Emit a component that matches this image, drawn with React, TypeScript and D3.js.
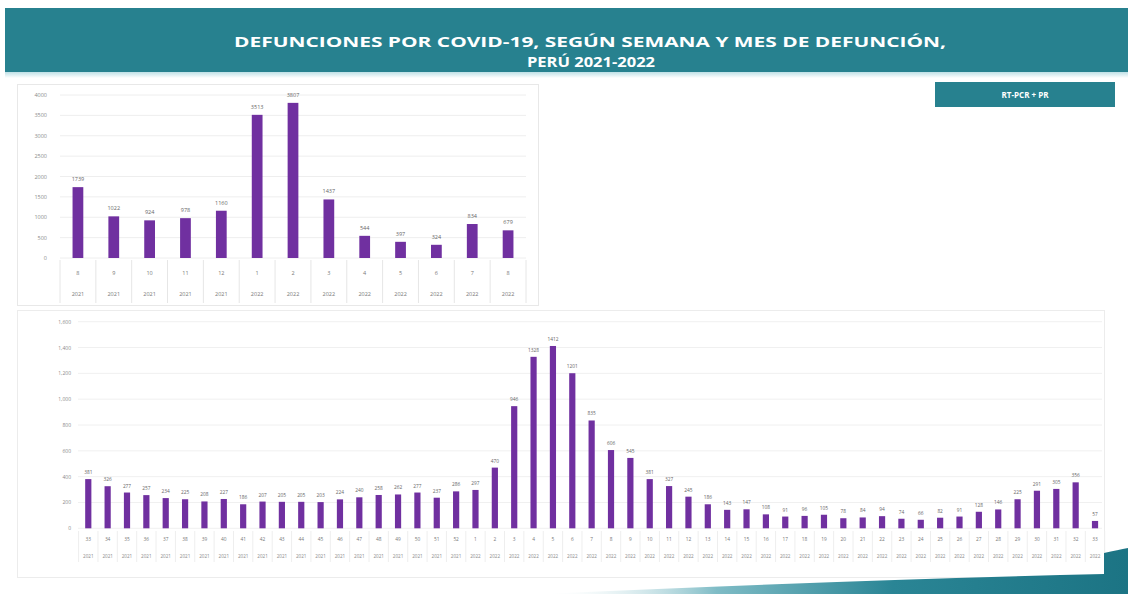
import * as d3 from "d3";

// monthly deaths (top chart)
const months = ["8", "9", "10", "11", "12", "1", "2", "3", "4", "5", "6", "7", "8"];
const monthYears = ["2021", "2021", "2021", "2021", "2021", "2022", "2022", "2022", "2022", "2022", "2022", "2022", "2022"];
const monthDeaths = [1739, 1022, 924, 978, 1160, 3513, 3807, 1437, 544, 397, 324, 834, 679];
const monthTicks = [0, 500, 1000, 1500, 2000, 2500, 3000, 3500, 4000];

// weekly deaths (bottom chart): weeks 33-52 of 2021, 1-33 of 2022
const weeks = [
  "33", "34", "35", "36", "37", "38", "39", "40", "41", "42", "43", "44", "45", "46", "47", "48", "49", "50", "51", "52",
  "1", "2", "3", "4", "5", "6", "7", "8", "9", "10", "11", "12", "13", "14", "15", "16", "17", "18", "19", "20",
  "21", "22", "23", "24", "25", "26", "27", "28", "29", "30", "31", "32", "33",
];
const weekYears = weeks.map((_, i) => (i < 20 ? "2021" : "2022"));
const weekDeaths = [
  381, 326, 277, 257, 234, 225, 208, 227, 186, 207, 205, 205, 203, 224, 240, 258, 262, 277, 237, 286,
  297, 470, 946, 1328, 1412, 1201, 835, 606, 545, 381, 327, 245, 186, 143, 147, 108, 91, 96, 105, 78,
  84, 94, 74, 66, 82, 91, 128, 146, 225, 291, 305, 356, 57,
];
const weekTicks = [0, 200, 400, 600, 800, 1000, 1200, 1400, 1600];

const PURPLE = "#7030a0";
const TEAL = "#27818f";
const FONT = "'Open Sans', 'Liberation Sans', sans-serif";

const App = () => {
  // top chart scales
  const xTop = d3.scaleBand<number>()
    .domain(d3.range(months.length))
    .range([60, 526])
    .paddingInner(0.7)
    .paddingOuter(0.35);
  const yTop = d3.scaleLinear().domain([0, 4000]).range([258, 95]);
  const stepTop = xTop.step();

  // bottom chart scales
  const xBot = d3.scaleBand<number>()
    .domain(d3.range(weeks.length))
    .range([78.6, 1104.7])
    .paddingInner(0.68)
    .paddingOuter(0.34);
  const yBot = d3.scaleLinear().domain([0, 1600]).range([528.3, 321.7]);
  const stepBot = xBot.step();

  const fmt = d3.format(",");

  return (
    <svg width={1128} height={594} style={{ position: "absolute", left: 0, top: 0 }} fontFamily={FONT}>
      <defs>
        <linearGradient id="swoosh" x1="0" x2="1" y1="0" y2="0">
          <stop offset="0" stopColor="#ffffff" stopOpacity={0} />
          <stop offset="0.3" stopColor="#7fbcc6" />
          <stop offset="0.6" stopColor="#2a8595" />
          <stop offset="1" stopColor="#1c7484" />
        </linearGradient>
        <linearGradient id="under" x1="0" x2="0" y1="0" y2="1">
          <stop offset="0" stopColor="#bfe0e6" />
          <stop offset="1" stopColor="#ffffff" />
        </linearGradient>
      </defs>
      <rect width={1128} height={594} fill="#fff" />

      {/* header */}
      <rect x={5} y={8} width={1123} height={64} fill={TEAL} />
      <rect x={5} y={72} width={1123} height={6} fill="url(#under)" />
      <text x={590} y={47} textAnchor="middle" fill="#fff" fontSize={15} fontWeight={700}
        textLength={712} lengthAdjust="spacingAndGlyphs">
        DEFUNCIONES POR COVID-19, SEGÚN SEMANA Y MES DE DEFUNCIÓN,
      </text>
      <text x={591} y={67} textAnchor="middle" fill="#fff" fontSize={15} fontWeight={700}
        textLength={128} lengthAdjust="spacingAndGlyphs">
        PERÚ 2021-2022
      </text>

      {/* badge */}
      <rect x={935} y={82} width={180} height={25} fill={TEAL} />
      <text x={1025} y={98} textAnchor="middle" fill="#fff" fontSize={8} fontWeight={700}>RT-PCR + PR</text>

      {/* top chart */}
      <rect x={17.5} y={84.5} width={521} height={221} fill="none" stroke="#e8e8e8" />
      {monthTicks.map((t) => (
        <g key={t}>
          <line x1={60} x2={526} y1={yTop(t)} y2={yTop(t)} stroke="#eeeeee" />
          <text x={47} y={yTop(t) + 2} textAnchor="end" fontSize={5.5} fill="#8a8a8a">{t}</text>
        </g>
      ))}
      {monthDeaths.map((v, i) => (
        <g key={i}>
          <rect x={xTop(i)} y={yTop(v)} width={xTop.bandwidth()} height={yTop(0) - yTop(v)} fill={PURPLE} />
          <text x={xTop(i)! + xTop.bandwidth() / 2} y={yTop(v) - 6} textAnchor="middle" fontSize={5.5} fill="#666">{v}</text>
          <text x={xTop(i)! + xTop.bandwidth() / 2} y={275} textAnchor="middle" fontSize={5.5} fill="#777">{months[i]}</text>
          <text x={xTop(i)! + xTop.bandwidth() / 2} y={296} textAnchor="middle" fontSize={5.5} fill="#777">{monthYears[i]}</text>
        </g>
      ))}
      {d3.range(months.length + 1).map((i) => (
        <line key={i} x1={60 + i * stepTop} x2={60 + i * stepTop} y1={260} y2={303} stroke="#e6e6e6" />
      ))}

      {/* bottom chart */}
      <rect x={17.5} y={310.5} width={1087} height={267} fill="none" stroke="#ececec" />
      {weekTicks.map((t) => (
        <g key={t}>
          <line x1={78} x2={1102} y1={yBot(t)} y2={yBot(t)} stroke="#f0f0f0" />
          <text x={71} y={yBot(t) + 2} textAnchor="end" fontSize={5} fill="#8a8a8a">{fmt(t)}</text>
        </g>
      ))}
      {weekDeaths.map((v, i) => (
        <g key={i}>
          <rect x={xBot(i)} y={yBot(v)} width={xBot.bandwidth()} height={yBot(0) - yBot(v)} fill={PURPLE} />
          <text x={xBot(i)! + xBot.bandwidth() / 2} y={yBot(v) - 5} textAnchor="middle" fontSize={4.8} fill="#666">{v}</text>
          <text x={xBot(i)! + xBot.bandwidth() / 2} y={541} textAnchor="middle" fontSize={4.8} fill="#777">{weeks[i]}</text>
          <text x={xBot(i)! + xBot.bandwidth() / 2} y={558} textAnchor="middle" fontSize={4.6} fill="#888">{weekYears[i]}</text>
        </g>
      ))}
      {d3.range(weeks.length + 1).map((i) => (
        <line key={i} x1={78.6 + i * stepBot} x2={78.6 + i * stepBot} y1={531} y2={562} stroke="#eeeeee" />
      ))}

      {/* decorative swoosh */}
      <path d="M 540 594 Q 850 580 1104 574 L 1104 553 Q 1118 550 1128 548 L 1128 594 Z" fill="url(#swoosh)" />
    </svg>
  );
};

export default App;
